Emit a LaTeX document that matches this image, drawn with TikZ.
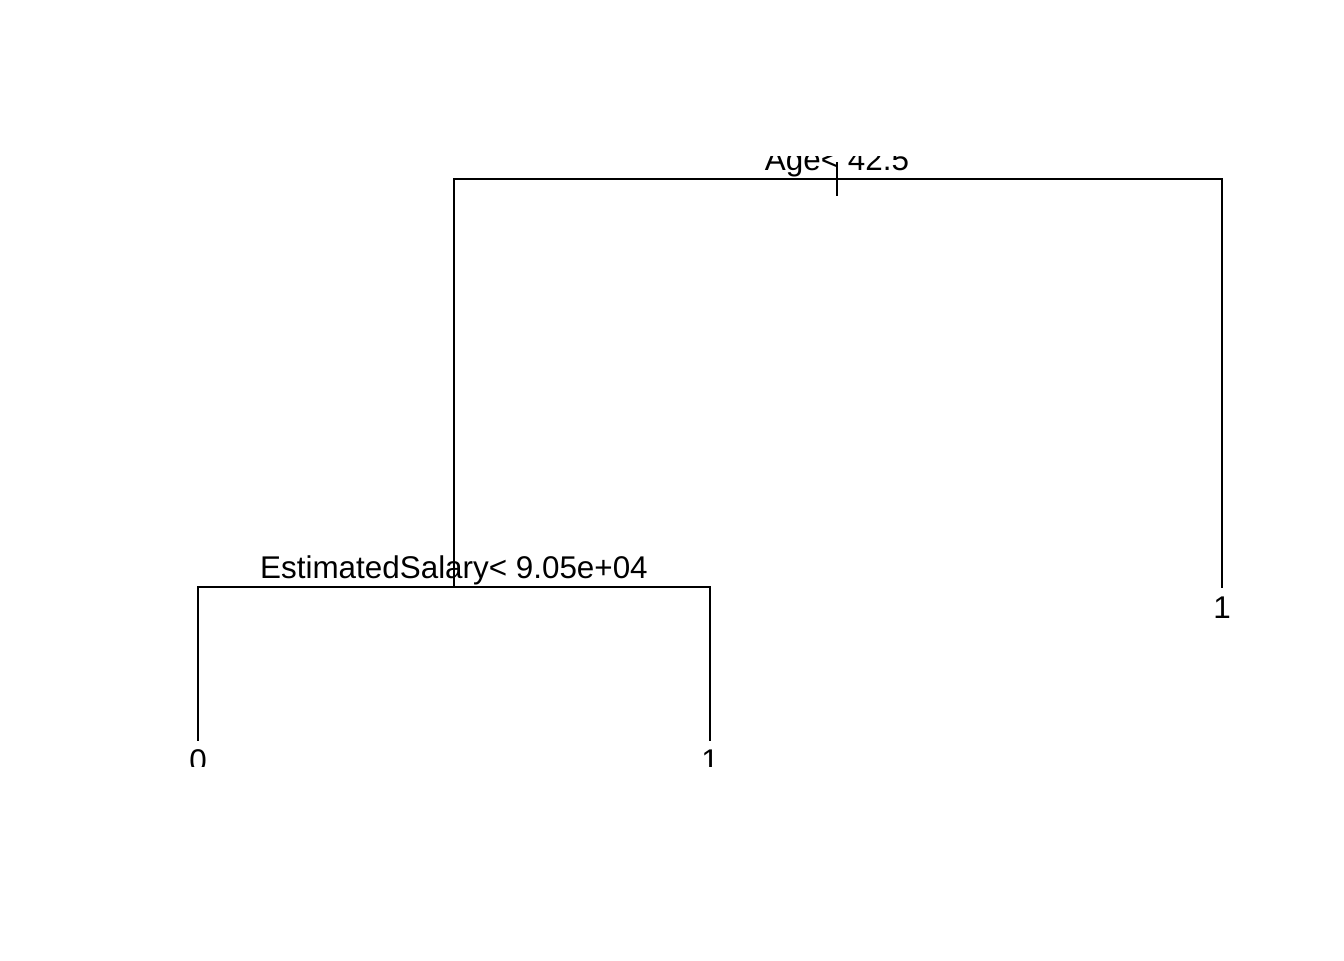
\documentclass[tikz,border=0pt]{standalone}
\usepackage{fontspec}
\setmainfont{Liberation Sans}
\begin{document}
\begin{tikzpicture}[x=0.75pt,y=-0.75pt,
  branch/.style={draw=black,line width=1.15pt,line cap=rect},
  lbl/.style={anchor=base,inner sep=0pt,font=\fontsize{23.55pt}{28pt}\selectfont}]
\useasboundingbox (0,0) rectangle (1344,960);
\fill[white] (0,0) rectangle (1344,960);
\begin{scope}
\clip (0,156) rectangle (1344,766);
% tree points
\coordinate (root) at (837,179);
\coordinate (rootTop) at (837,163);
\coordinate (rootBot) at (837,195);
\coordinate (rl) at (454,179);
\coordinate (rr) at (1222,179);
\coordinate (n2) at (454,587);
\coordinate (leafR) at (1222,587);
\coordinate (n2l) at (198,587);
\coordinate (n2r) at (710,587);
\coordinate (leaf0) at (198,740);
\coordinate (leaf1) at (710,740);
% branches
\draw[branch] (n2) -- (rl) -- (rr) -- (leafR);
\draw[branch] (rootTop) -- (rootBot);
\draw[branch] (leaf0) -- (n2l) -- (n2r) -- (leaf1);
% labels
\node[lbl] (lroot) at (837,170.5) {Age< 42.5};
\node[lbl] (ln2) at (454,578) {EstimatedSalary< 9.05e+04};
\node[lbl] (lleafR) at (1222,618) {1};
\node[lbl] (lleaf0) at (198,771) {0};
\node[lbl] (lleaf1) at (710,771) {1};
\end{scope}
\end{tikzpicture}
\end{document}
